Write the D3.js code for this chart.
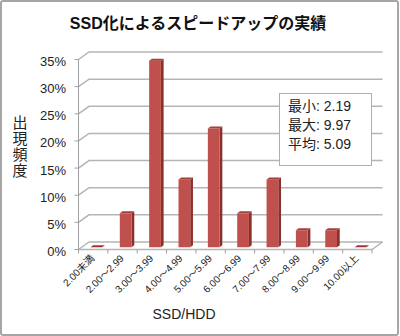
<!DOCTYPE html>
<html><head><meta charset="utf-8">
<script src="https://cdn.jsdelivr.net/npm/d3@7"></script>
<style>html,body{margin:0;padding:0;background:#fff;}svg{display:block;}</style>
</head><body>
<script>
const categories = ["2.00未満","2.00～2.99","3.00～3.99","4.00～4.99","5.00～5.99","6.00～6.99","7.00～7.99","8.00～8.99","9.00～9.99","10.00以上"];
const frequency = [0, 6.25, 34.375, 12.5, 21.875, 6.25, 12.5, 3.125, 3.125, 0];
const yTicks = [0, 5, 10, 15, 20, 25, 30, 35];
const yTickLabels = ["0%","5%","10%","15%","20%","25%","30%","35%"];
const statLabels = ["最小","最大","平均"];
const statValues = ["2.19","9.97","5.09"];
const titleText = "SSD化によるスピードアップの実績";
const xTitle = "SSD/HDD";
const yTitle = "出現頻度";

const W = 400, H = 336;
const FONT = "'Liberation Sans','Noto Sans CJK JP',sans-serif";
const svg = d3.select("body").append("svg").attr("width", W).attr("height", H);

svg.append("rect").attr("x",1).attr("y",1).attr("width",397).attr("height",334)
  .attr("rx",2).attr("fill","#fff").attr("stroke","#A6A6A6").attr("stroke-width",2);

const x0 = 78.5, x1 = 372, DX = 10.5, DY = -7.5;
const x = d3.scaleBand().domain(categories).range([x0, x1]).paddingInner(0.6).paddingOuter(0.3);
const y = d3.scaleLinear().domain([0, 35]).range([249.5, 59.5]);
const step = x.step();
const fF = 0.3, fB = 0.56;

const grid = "#B5B5B5";
// gridlines (side wall + back wall)
svg.append("g").selectAll("path").data(yTicks).join("path")
  .attr("d", t => `M${x0},${y(t)}L${x0+DX},${y(t)+DY}L${x1+DX},${y(t)+DY}`)
  .attr("fill","none").attr("stroke",grid).attr("stroke-width",1.5);
// floor front & right edge
svg.append("path").attr("d", `M${x0},${y(0)}L${x1},${y(0)}L${x1+DX},${y(0)+DY}`)
  .attr("fill","none").attr("stroke",grid).attr("stroke-width",1.5);
// y axis line and ticks
svg.append("line").attr("x1",x0).attr("x2",x0).attr("y1",y(35)).attr("y2",y(0)).attr("stroke","#A0A0A0").attr("stroke-width",1);
svg.append("g").selectAll("line").data(yTicks).join("line")
  .attr("x1",x0-4).attr("x2",x0).attr("y1",d=>y(d)).attr("y2",d=>y(d)).attr("stroke","#A0A0A0");
// x ticks
svg.append("g").selectAll("line").data(d3.range(categories.length+1)).join("line")
  .attr("x1",k=>x0+k*step).attr("x2",k=>x0+k*step).attr("y1",y(0)).attr("y2",y(0)+4).attr("stroke","#A0A0A0");

// bars
const bars = svg.append("g");
categories.forEach((c, i) => {
  const v = frequency[i];
  const xl = x(c), xr = x(c) + x.bandwidth();
  const yt = y(v), yb = y(0);
  const p = (xx, yy, f) => `${xx+f*DX},${yy+f*DY}`;
  if (v > 0) {
    bars.append("polygon").attr("points", [p(xr,yt,fF),p(xr,yt,fB),p(xr,yb,fB),p(xr,yb,fF)].join(" ")).attr("fill","#8C302E");
    bars.append("rect").attr("x", xl+fF*DX).attr("y", yt+fF*DY).attr("width", xr-xl).attr("height", yb-yt).attr("fill","#C0504D");
    bars.append("polygon").attr("points", [p(xl,yt,fF),p(xr,yt,fF),p(xr,yt,fB),p(xl,yt,fB)].join(" ")).attr("fill","#A63E3B");
  } else {
    bars.append("polygon").attr("points", [p(xl,yb,fF),p(xr,yb,fF),p(xr,yb,fB),p(xl,yb,fB)].join(" ")).attr("fill","#9E3533");
  }
});

// y tick labels
svg.append("g").selectAll("text").data(yTicks).join("text")
  .attr("x", 66).attr("y", d => y(d) + 6.5).attr("text-anchor","end")
  .attr("font-family",FONT).attr("font-size",13).attr("fill","#222")
  .text((d,i)=>yTickLabels[i]);

// x tick labels
svg.append("g").selectAll("text").data(categories).join("text")
  .attr("transform", c => `translate(${x(c)+x.bandwidth()/2+2},${259}) rotate(-45)`)
  .attr("text-anchor","end").attr("font-family",FONT).attr("font-size",10).attr("fill","#222")
  .text(c=>c);

// titles
svg.append("text").attr("x",198).attr("y",29).attr("text-anchor","middle")
  .attr("font-family",FONT).attr("font-size",16).attr("font-weight","bold").attr("fill","#111").text(titleText);
svg.append("text").attr("x",184).attr("y",319).attr("text-anchor","middle")
  .attr("font-family",FONT).attr("font-size",14).attr("fill","#222").text(xTitle);
svg.append("g").selectAll("text").data(Array.from(yTitle)).join("text")
  .attr("x",20).attr("y",(d,i)=>128+i*16).attr("text-anchor","middle")
  .attr("font-family",FONT).attr("font-size",15).attr("fill","#222").text(d=>d);

// stats box
svg.append("rect").attr("x",279.5).attr("y",93.5).attr("width",92).attr("height",72)
  .attr("fill","#fff").attr("stroke","#95B3D7").attr("stroke-width",1);
svg.append("g").selectAll("text").data(statLabels).join("text")
  .attr("x",288).attr("y",(d,i)=>111+i*19)
  .attr("font-family",FONT).attr("font-size",14).attr("fill","#222")
  .text((d,i)=>`${d}: ${statValues[i]}`);
</script>
</body></html>
